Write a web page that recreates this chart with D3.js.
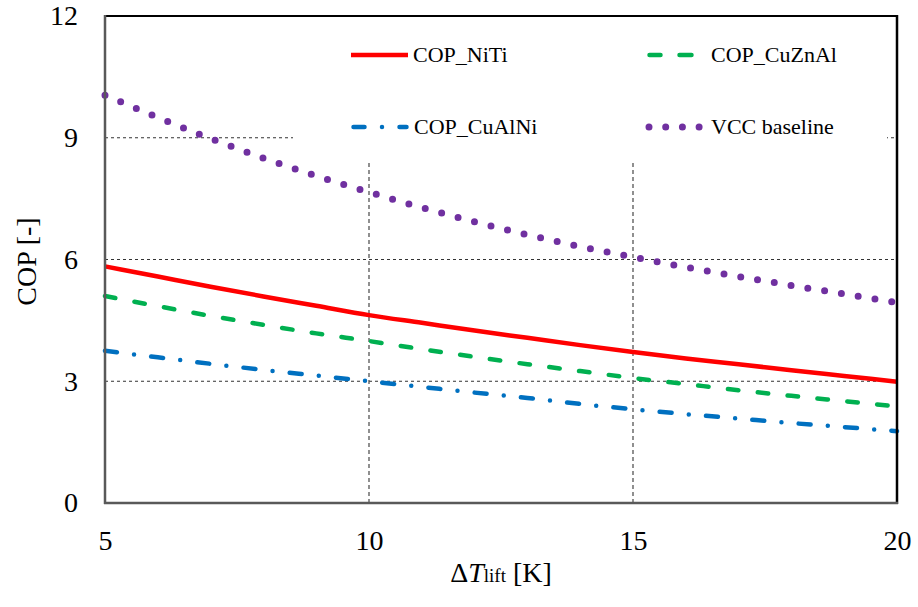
<!DOCTYPE html>
<html>
<head>
<meta charset="utf-8">
<script src="https://cdn.jsdelivr.net/npm/d3@7"></script>
</head>
<body style="margin:0;background:#fff">
<svg id="chart" width="918" height="607" style="display:block"></svg>
<script>
// ---- data ----
const dT = [5, 6, 7, 8, 9, 10, 11, 12, 13, 14, 15, 16, 17, 18, 19, 20];
const copNiTi   = [5.83, 5.58, 5.33, 5.09, 4.86, 4.63, 4.44, 4.25, 4.07, 3.89, 3.72, 3.56, 3.42, 3.27, 3.13, 2.99];
const copCuZnAl = [5.10, 4.85, 4.61, 4.39, 4.18, 3.99, 3.79, 3.60, 3.42, 3.25, 3.08, 2.93, 2.78, 2.64, 2.51, 2.38];
const copCuAlNi = [3.75, 3.59, 3.43, 3.28, 3.14, 3.00, 2.86, 2.72, 2.59, 2.44, 2.31, 2.19, 2.08, 1.97, 1.87, 1.77];
const vccBase   = [10.05, 9.50, 8.98, 8.50, 8.06, 7.66, 7.28, 6.93, 6.61, 6.32, 6.06, 5.81, 5.58, 5.36, 5.15, 4.94];
const seriesNames = ["COP_NiTi", "COP_CuZnAl", "COP_CuAlNi", "VCC baseline"];
const xTicks = [5, 10, 15, 20];
const yTicks = [0, 3, 6, 9, 12];

const FONT = "Liberation Serif";

// ---- layout ----
const svg = d3.select("#chart");
const L = 105, R = 897, T = 16, B = 503;
const x = d3.scaleLinear().domain([5, 20]).range([L, R]);
const y = d3.scaleLinear().domain([0, 12]).range([B, T]);

// gridlines
const grid = svg.append("g");
grid.selectAll("line.h").data([3, 6, 9]).enter().append("line")
  .attr("x1", L).attr("x2", R).attr("y1", d => y(d)).attr("y2", d => y(d))
  .attr("stroke", "#333").attr("stroke-width", 1).attr("stroke-dasharray", "3,3");
grid.selectAll("line.v").data([10, 15]).enter().append("line")
  .attr("y1", T).attr("y2", B).attr("x1", d => x(d)).attr("x2", d => x(d))
  .attr("stroke", "#555").attr("stroke-width", 1.3).attr("stroke-dasharray", "4,3");

// legend background (covers gridlines)
svg.append("rect").attr("x", 293).attr("y", T + 1).attr("width", 887 - 293).attr("height", 162 - T - 1)
  .attr("fill", "#fff");

// axes tick labels
const yAxis = d3.axisLeft(y).tickValues(yTicks).tickSize(0).tickPadding(27).tickFormat(d3.format("d"));
const gy = svg.append("g").attr("transform", `translate(${L},0)`).call(yAxis);
gy.attr("font-family", FONT).attr("font-size", 28);
gy.select(".domain").remove();
gy.selectAll("text").attr("fill", "#000").attr("font-family", FONT).attr("font-size", 28);

const xAxis = d3.axisBottom(x).tickValues(xTicks).tickSize(0).tickPadding(27).tickFormat(d3.format("d"));
const gx = svg.append("g").attr("transform", `translate(0,${B})`).call(xAxis);
gx.attr("font-family", FONT).attr("font-size", 28);
gx.select(".domain").remove();
gx.selectAll("text").attr("fill", "#000").attr("font-family", FONT).attr("font-size", 28);

// series
const series = [
  { name: seriesNames[0], vals: copNiTi,   color: "#ff0000", width: 4.5, dash: null, cap: "butt" },
  { name: seriesNames[1], vals: copCuZnAl, color: "#00b050", width: 4.5, dash: "10.5,19.5", cap: "round" },
  { name: seriesNames[2], vals: copCuAlNi, color: "#0070c0", width: 4.5, dash: "12,17.25,0,17.25", cap: "round" },
  { name: seriesNames[3], vals: vccBase,   color: "#7030a0", width: 7, dash: "0,17", cap: "round" }
];
const line = d3.line().x(d => x(d[0])).y(d => y(d[1])).curve(d3.curveMonotoneX);
series.forEach(s => {
  svg.append("path")
    .datum(dT.map((t, i) => [t, s.vals[i]]))
    .attr("d", line)
    .attr("fill", "none")
    .attr("stroke", s.color)
    .attr("stroke-width", s.width)
    .attr("stroke-linecap", s.cap)
    .attr("stroke-dasharray", s.dash);
});

// plot frame
svg.append("line").attr("x1", L).attr("x2", R + 1).attr("y1", T).attr("y2", T).attr("stroke", "#000").attr("stroke-width", 2);
svg.append("line").attr("x1", R).attr("x2", R).attr("y1", T - 1).attr("y2", B + 1).attr("stroke", "#000").attr("stroke-width", 2.5);
svg.append("line").attr("x1", L).attr("x2", L).attr("y1", T - 1).attr("y2", B + 1).attr("stroke", "#595959").attr("stroke-width", 2.5);
svg.append("line").attr("x1", L - 1).attr("x2", R + 1).attr("y1", B).attr("y2", B).attr("stroke", "#595959").attr("stroke-width", 2.5);

// legend
const leg = svg.append("g");
function legText(xp, yp, s) {
  leg.append("text").attr("x", xp).attr("y", yp).attr("font-family", FONT).attr("font-size", 22).attr("fill", "#000").text(s);
}
leg.append("line").attr("x1", 351).attr("x2", 408).attr("y1", 55).attr("y2", 55)
  .attr("stroke", series[0].color).attr("stroke-width", 4.5);
legText(413, 62, seriesNames[0]);
leg.append("line").attr("x1", 649.5).attr("x2", 691.5).attr("y1", 55).attr("y2", 55)
  .attr("stroke", series[1].color).attr("stroke-width", 4.5).attr("stroke-linecap", "round")
  .attr("stroke-dasharray", "11,19,20");
legText(711, 62, seriesNames[1]);
leg.append("line").attr("x1", 353.5).attr("x2", 406.5).attr("y1", 127).attr("y2", 127)
  .attr("stroke", series[2].color).attr("stroke-width", 4.5).attr("stroke-linecap", "round")
  .attr("stroke-dasharray", "11,17.5,0,17.5,20");
legText(414, 134, seriesNames[2]);
leg.append("line").attr("x1", 649).attr("x2", 700).attr("y1", 127).attr("y2", 127)
  .attr("stroke", series[3].color).attr("stroke-width", 7).attr("stroke-linecap", "round")
  .attr("stroke-dasharray", "0,16.7");
legText(711, 134, seriesNames[3]);

// axis titles
svg.append("text").attr("transform", "translate(36,261.5) rotate(-90)")
  .attr("font-family", FONT).attr("font-size", 28).attr("fill", "#000")
  .attr("text-anchor", "middle").text("COP [-]");
const xt = svg.append("text").attr("x", (L + R) / 2).attr("y", 582).attr("text-anchor", "middle")
  .attr("font-family", FONT).attr("font-size", 28).attr("fill", "#000");
xt.append("tspan").text("Δ");
xt.append("tspan").attr("font-style", "italic").text("T");
xt.append("tspan").attr("font-size", 19).text("lift");
xt.append("tspan").text(" [K]");
</script>
</body>
</html>
